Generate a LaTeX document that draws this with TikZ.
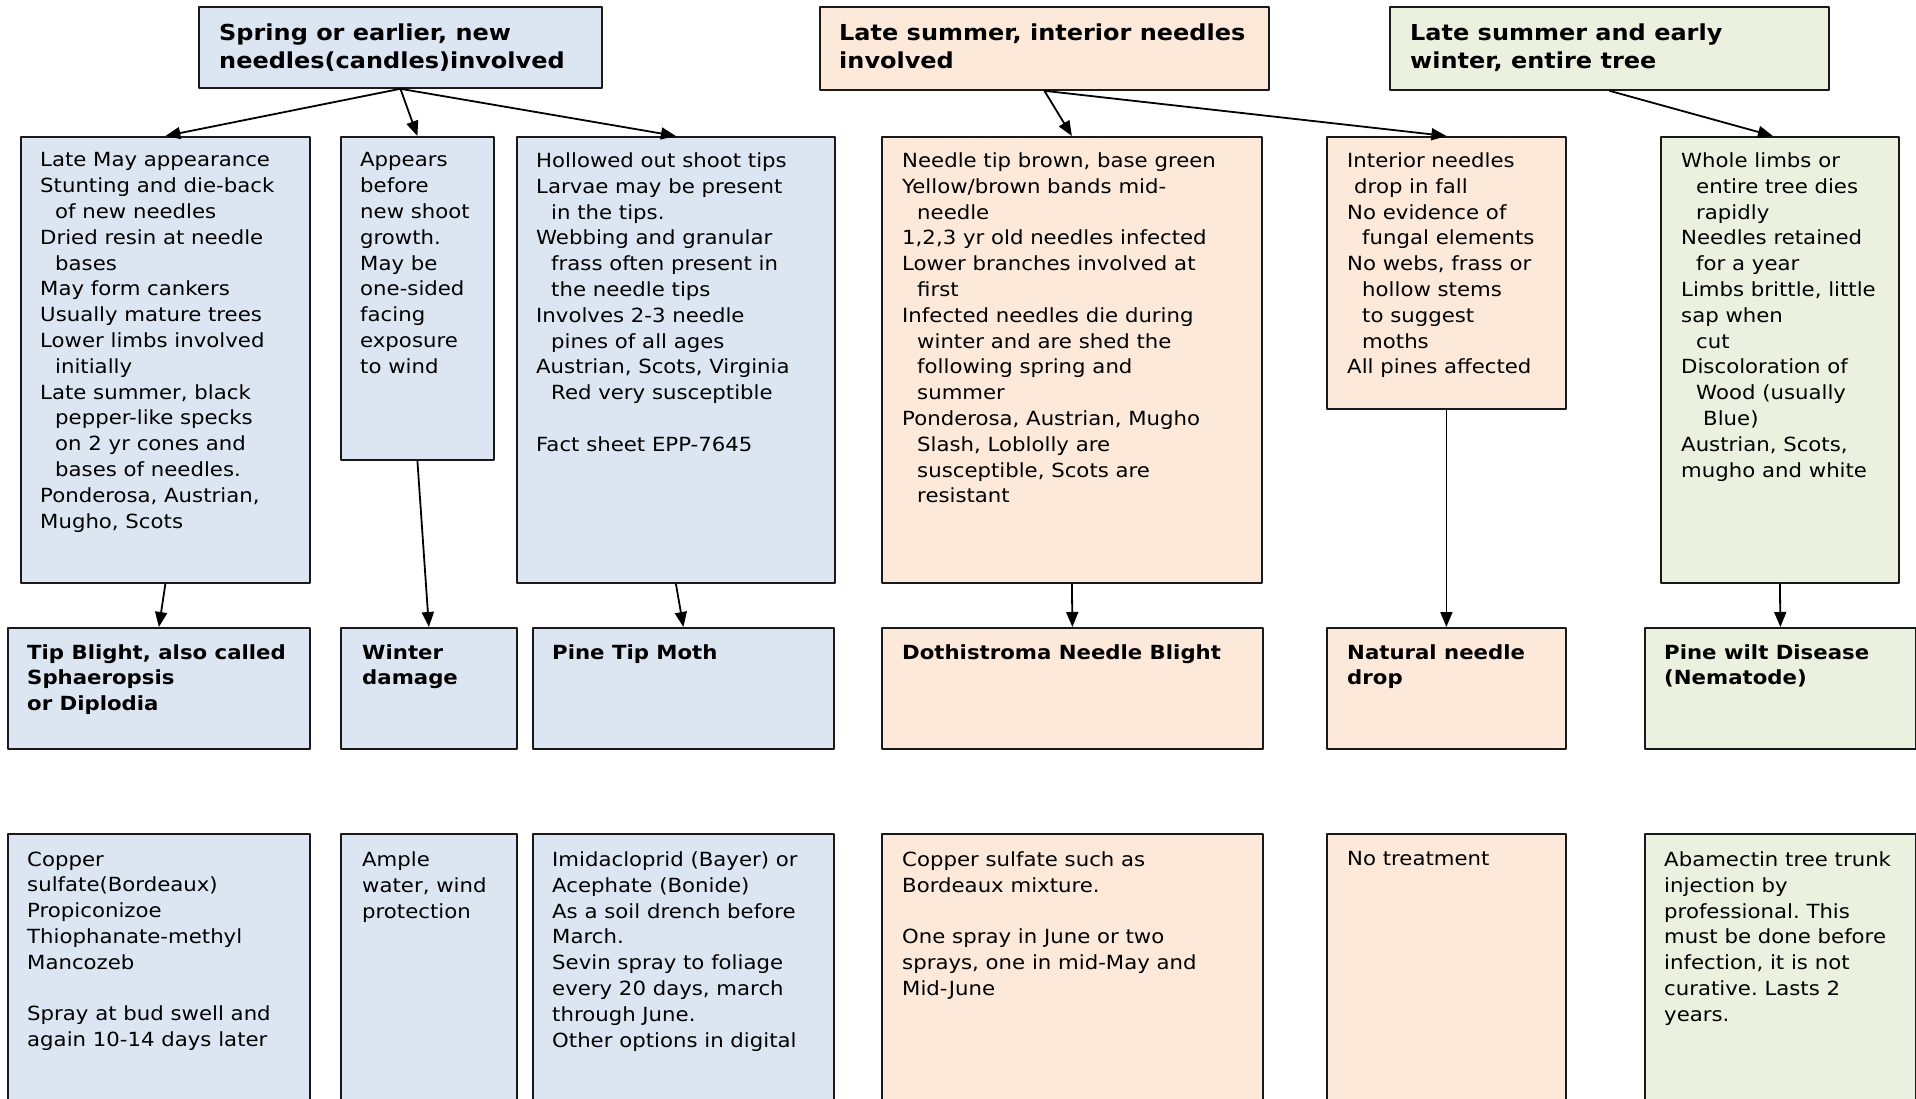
\documentclass[tikz,border=0pt]{standalone}
\usepackage{fontspec}
\setmainfont{DejaVu Sans}[FakeStretch=1.09]
\frenchspacing
\usetikzlibrary{arrows.meta}
\definecolor{springbg}{HTML}{DCE6F2}
\definecolor{summerbg}{HTML}{FDE9D9}
\definecolor{winterbg}{HTML}{EBF1DE}
\newcommand{\ind}{\hspace*{15pt}}
\tikzset{
  box/.style={draw=black!90, line width=1.8pt, anchor=north west, inner sep=0pt},
  txt/.style={anchor=north west, inner sep=0pt, align=left, font=\fontsize{19.5}{25.8}\selectfont},
  hdr/.style={txt, font=\bfseries\fontsize{19.5}{25.8}\selectfont},
  toptxt/.style={txt, font=\bfseries\fontsize{22}{28.2}\selectfont},
}
\begin{document}
\begin{tikzpicture}[x=1pt, y=-1pt, line join=round, >={Triangle[length=15pt,width=12pt]}]
  \useasboundingbox (0,0) rectangle (1916,1099);
  \clip (0,0) rectangle (1916,1099);
  %%%%%%%%%%%%%%%%%%%%%%%%%%%%%%%%%
  % season boxes
  \node[box, fill=springbg, minimum width=403, minimum height=81] (t1) at (198,6) {};
  \node[box, fill=summerbg, minimum width=449, minimum height=83] (t2) at (819,6) {};
  \node[box, fill=winterbg, minimum width=439, minimum height=83] (t3) at (1389,6) {};
  \node[toptxt] (t1txt) at ([shift={(21,17.5)}]t1.north west) {Spring or earlier, new\\needles(candles)involved};
  \node[toptxt] (t2txt) at ([shift={(20,17.5)}]t2.north west) {Late summer, interior needles\\involved};
  \node[toptxt] (t3txt) at ([shift={(21,17.5)}]t3.north west) {Late summer and early\\winter, entire tree};
  %%%%%%%%%%%%%%%%%%%%%%%%%%%%%%%%%
  % symptom boxes
  \node[box, fill=springbg, minimum width=289, minimum height=446] (s1) at (20,136) {};
  \node[box, fill=springbg, minimum width=153, minimum height=323] (s2) at (340,136) {};
  \node[box, fill=springbg, minimum width=318, minimum height=446] (s3) at (516,136) {};
  \node[box, fill=summerbg, minimum width=380, minimum height=446] (s4) at (881,136) {};
  \node[box, fill=summerbg, minimum width=239, minimum height=272] (s5) at (1326,136) {};
  \node[box, fill=winterbg, minimum width=238, minimum height=446] (s6) at (1660,136) {};
  \node[txt] (s1txt) at ([shift={(20,16.5)}]s1.north west) {Late May appearance\\Stunting and die-back\\\ind of new needles\\Dried resin at needle\\\ind bases\\May form cankers\\Usually mature trees\\Lower limbs involved\\\ind initially\\Late summer, black\\\ind pepper-like specks\\\ind on 2 yr cones and\\\ind bases of needles.\\Ponderosa, Austrian,\\Mugho, Scots};
  \node[txt] (s2txt) at ([shift={(20,16.5)}]s2.north west) {Appears\\before\\new shoot\\growth.\\May be\\one-sided\\facing\\exposure\\to wind};
  \node[txt] (s3txt) at ([shift={(20,16.5)}]s3.north west) {Hollowed out shoot tips\\Larvae may be present\\\ind in the tips.\\Webbing and granular\\\ind frass often present in\\\ind the needle tips\\Involves 2-3 needle\\\ind pines of all ages\\Austrian, Scots, Virginia\\\ind Red very susceptible\\[25.8pt]Fact sheet EPP-7645};
  \node[txt] (s4txt) at ([shift={(21,16.5)}]s4.north west) {Needle tip brown, base green\\Yellow/brown bands mid-\\\ind needle\\1,2,3 yr old needles infected\\Lower branches involved at\\\ind first\\Infected needles die during\\\ind winter and are shed the\\\ind following spring and\\\ind summer\\Ponderosa, Austrian, Mugho\\\ind Slash, Loblolly are\\\ind susceptible, Scots are\\\ind resistant};
  \node[txt] (s5txt) at ([shift={(21,16.5)}]s5.north west) {Interior needles\\\hspace*{7pt}drop in fall\\No evidence of\\\ind fungal elements\\No webs, frass or\\\ind hollow stems\\\ind to suggest\\\ind moths\\All pines affected};
  \node[txt] (s6txt) at ([shift={(21,16.5)}]s6.north west) {Whole limbs or\\\ind entire tree dies\\\ind rapidly\\Needles retained\\\ind for a year\\Limbs brittle, little\\sap when\\\ind cut\\Discoloration of\\\ind Wood (usually\\\hspace*{22pt}Blue)\\Austrian, Scots,\\mugho and white};
  %%%%%%%%%%%%%%%%%%%%%%%%%%%%%%%%%
  % diagnosis boxes
  \node[box, fill=springbg, minimum width=302, minimum height=121] (n1) at (7,627) {};
  \node[box, fill=springbg, minimum width=176, minimum height=121] (n2) at (340,627) {};
  \node[box, fill=springbg, minimum width=301, minimum height=121] (n3) at (532,627) {};
  \node[box, fill=summerbg, minimum width=381, minimum height=121] (n4) at (881,627) {};
  \node[box, fill=summerbg, minimum width=239, minimum height=121] (n5) at (1326,627) {};
  \node[box, fill=winterbg, minimum width=271, minimum height=121] (n6) at (1644,627) {};
  \node[hdr] (n1txt) at ([shift={(20,17)}]n1.north west) {Tip Blight, also called\\Sphaeropsis\\or Diplodia};
  \node[hdr] (n2txt) at ([shift={(22,17)}]n2.north west) {Winter\\damage};
  \node[hdr] (n3txt) at ([shift={(20,17)}]n3.north west) {Pine Tip Moth};
  \node[hdr] (n4txt) at ([shift={(21,17)}]n4.north west) {Dothistroma Needle Blight};
  \node[hdr] (n5txt) at ([shift={(21,17)}]n5.north west) {Natural needle\\drop};
  \node[hdr] (n6txt) at ([shift={(20,17)}]n6.north west) {Pine wilt Disease\\(Nematode)};
  %%%%%%%%%%%%%%%%%%%%%%%%%%%%%%%%%
  % treatment boxes
  \node[box, fill=springbg, minimum width=302, minimum height=280] (r1) at (7,833) {};
  \node[box, fill=springbg, minimum width=176, minimum height=280] (r2) at (340,833) {};
  \node[box, fill=springbg, minimum width=301, minimum height=280] (r3) at (532,833) {};
  \node[box, fill=summerbg, minimum width=381, minimum height=280] (r4) at (881,833) {};
  \node[box, fill=summerbg, minimum width=239, minimum height=280] (r5) at (1326,833) {};
  \node[box, fill=winterbg, minimum width=271, minimum height=280] (r6) at (1644,833) {};
  \node[txt] (r1txt) at ([shift={(20,18.5)}]r1.north west) {Copper\\sulfate(Bordeaux)\\Propiconizoe\\Thiophanate-methyl\\Mancozeb\\[25.8pt]Spray at bud swell and\\again 10-14 days later};
  \node[txt] (r2txt) at ([shift={(22,18.5)}]r2.north west) {Ample\\water, wind\\protection};
  \node[txt] (r3txt) at ([shift={(20,18.5)}]r3.north west) {Imidacloprid (Bayer) or\\Acephate (Bonide)\\As a soil drench before\\March.\\Sevin spray to foliage\\every 20 days, march\\through June.\\Other options in digital};
  \node[txt] (r4txt) at ([shift={(21,18.5)}]r4.north west) {Copper sulfate such as\\Bordeaux mixture.\\[25.8pt]One spray in June or two\\sprays, one in mid-May and\\Mid-June};
  \node[txt] (r5txt) at ([shift={(21,18.5)}]r5.north west) {No treatment};
  \node[txt] (r6txt) at ([shift={(20,18.5)}]r6.north west) {Abamectin tree trunk\\injection by\\professional. This\\must be done before\\infection, it is not\\curative. Lasts 2\\years.};
  %%%%%%%%%%%%%%%%%%%%%%%%%%%%%%%%%
  % arrows
  \begin{scope}[line width=1.8pt]
    \draw[->] (t1.south) -- (s1.north);
    \draw[->] (t1.south) -- (s2.north);
    \draw[->] (t1.south) -- (s3.north);
    \draw[->] (t2.south) -- (s4.north);
    \draw[->] (t2.south) -- (s5.north);
    \draw[->] (t3.south) -- ([xshift=-7]s6.north);
    \draw[->] (s1.south) -- (n1.north);
    \draw[->] (s2.south) -- (n2.north);
    \draw[->] (s3.south) -- (n3.north);
    \draw[->] (s4.south) -- (n4.north);
    \draw[->] (s5.south) -- (n5.north);
    \draw[->] (s6.south) -- (n6.north);
  \end{scope}
\end{tikzpicture}
\end{document}
